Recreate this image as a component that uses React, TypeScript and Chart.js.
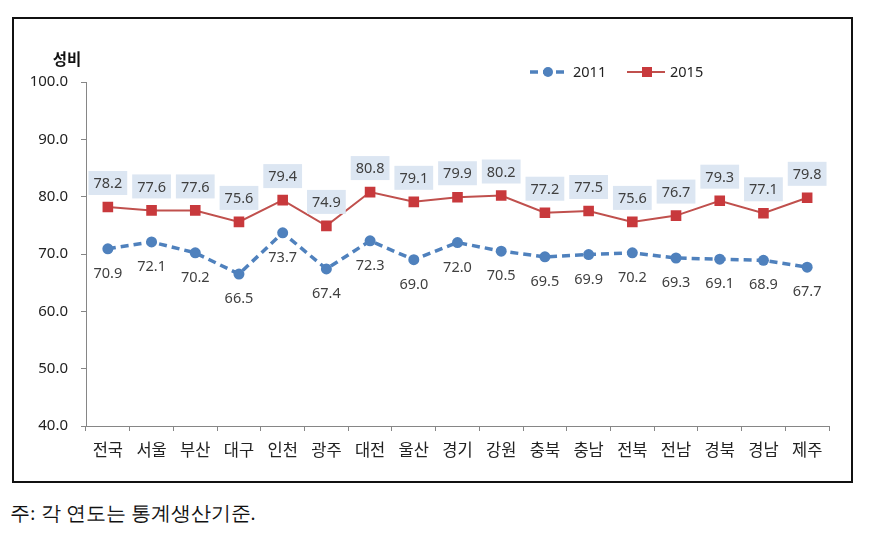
import { useEffect, useRef } from "react";
import { Chart, registerables } from "chart.js";

Chart.register(...registerables);

const categories = ["전국", "서울", "부산", "대구", "인천", "광주", "대전", "울산", "경기", "강원", "충북", "충남", "전북", "전남", "경북", "경남", "제주"];
const values2011 = [70.9, 72.1, 70.2, 66.5, 73.7, 67.4, 72.3, 69.0, 72.0, 70.5, 69.5, 69.9, 70.2, 69.3, 69.1, 68.9, 67.7];
const values2015 = [78.2, 77.6, 77.6, 75.6, 79.4, 74.9, 80.8, 79.1, 79.9, 80.2, 77.2, 77.5, 75.6, 76.7, 79.3, 77.1, 79.8];
const seriesNames = ["2011", "2015"];
const yMin = 40;
const yMax = 100;
const yStep = 10;
const yTitle = "성비";
const footnote = "주: 각 연도는 통계생산기준.";

const BLUE = "#4f81bd";
const RED = "#c0504d";
const RED_MARK = "#c8393c";
const NUM_FONT = "'Noto Sans', 'Noto Sans CJK KR', sans-serif";
const KR_FONT = "'Noto Sans CJK KR', 'Noto Sans', sans-serif";

const labelPlugin = {
  id: "dataLabels",
  afterDatasetsDraw(chart: any) {
    const ctx = chart.ctx;
    ctx.save();
    ctx.font = `14.5px ${NUM_FONT}`;
    ctx.textAlign = "center";
    ctx.textBaseline = "middle";
    chart.data.datasets.forEach((ds: any, di: number) => {
      const meta = chart.getDatasetMeta(di);
      meta.data.forEach((pt: any, i: number) => {
        const text = (ds.data[i] as number).toFixed(1);
        if (di === 1) {
          const cy = pt.y - 24;
          const w = ctx.measureText(text).width + 10;
          ctx.fillStyle = "#dce6f2";
          ctx.fillRect(pt.x - w / 2, cy - 12, w, 24);
          ctx.fillStyle = "#404040";
          ctx.fillText(text, pt.x, cy + 1);
        } else {
          ctx.fillStyle = "#404040";
          ctx.fillText(text, pt.x, pt.y + 25);
        }
      });
    });
    ctx.restore();
  },
};

const decorPlugin = {
  id: "decor",
  afterDraw(chart: any) {
    const ctx = chart.ctx;
    ctx.save();
    ctx.font = `bold 15.5px ${KR_FONT}`;
    ctx.fillStyle = "#111";
    ctx.textAlign = "center";
    ctx.textBaseline = "middle";
    ctx.fillText(yTitle, 67, 59);

    const ly = 72;
    ctx.strokeStyle = BLUE;
    ctx.lineWidth = 3.5;
    ctx.setLineDash([8, 5]);
    ctx.beginPath();
    ctx.moveTo(530, ly);
    ctx.lineTo(566, ly);
    ctx.stroke();
    ctx.setLineDash([]);
    ctx.fillStyle = BLUE;
    ctx.beginPath();
    ctx.arc(548, ly, 5, 0, Math.PI * 2);
    ctx.fill();
    ctx.font = `14.5px ${NUM_FONT}`;
    ctx.fillStyle = "#222";
    ctx.textAlign = "left";
    ctx.fillText(seriesNames[0], 573, ly + 1);

    ctx.strokeStyle = RED;
    ctx.lineWidth = 2;
    ctx.beginPath();
    ctx.moveTo(627, ly);
    ctx.lineTo(665, ly);
    ctx.stroke();
    ctx.fillStyle = RED_MARK;
    ctx.fillRect(642, ly - 5, 10, 10);
    ctx.fillStyle = "#222";
    ctx.fillText(seriesNames[1], 670, ly + 1);
    ctx.restore();
  },
};

export default function App() {
  const ref = useRef<HTMLCanvasElement | null>(null);

  useEffect(() => {
    document.body.style.margin = "0";
    if (!ref.current) return;
    const chart = new Chart(ref.current, {
      type: "line",
      data: {
        labels: categories,
        datasets: [
          {
            label: seriesNames[0],
            data: values2011,
            borderColor: BLUE,
            backgroundColor: BLUE,
            borderWidth: 3.5,
            borderDash: [8, 5],
            pointStyle: "circle",
            pointRadius: 5.5,
            pointBackgroundColor: BLUE,
            pointBorderColor: BLUE,
            pointBorderWidth: 0,
            tension: 0,
          },
          {
            label: seriesNames[1],
            data: values2015,
            borderColor: RED,
            backgroundColor: RED_MARK,
            borderWidth: 2,
            pointStyle: "rect",
            pointRadius: 7.5,
            pointBackgroundColor: RED_MARK,
            pointBorderColor: RED_MARK,
            pointBorderWidth: 0,
            tension: 0,
          },
        ],
      },
      options: {
        animation: false,
        responsive: false,
        maintainAspectRatio: false,
        layout: { padding: { top: 82, right: 44, left: 0, bottom: 0 } },
        plugins: {
          legend: { display: false },
          tooltip: { enabled: false },
          title: { display: false },
        },
        scales: {
          x: {
            type: "category",
            offset: true,
            grid: {
              offset: true,
              drawOnChartArea: false,
              drawTicks: true,
              tickLength: 5,
              color: "#868686",
            },
            border: { color: "#868686", width: 1 },
            ticks: {
              font: { size: 16.5, family: KR_FONT },
              color: "#222",
              padding: 9,
              maxRotation: 0,
              autoSkip: false,
            },
            afterFit: (s: any) => {
              s.height = 56;
            },
          },
          y: {
            min: yMin,
            max: yMax,
            grid: {
              drawOnChartArea: false,
              drawTicks: true,
              tickLength: 5,
              color: "#868686",
            },
            border: { color: "#868686", width: 1 },
            ticks: {
              stepSize: yStep,
              font: { size: 15, family: NUM_FONT },
              color: "#222",
              padding: 13,
              callback: (v: any) => Number(v).toFixed(1),
            },
            afterFit: (s: any) => {
              s.width = 86;
            },
          },
        },
      },
      plugins: [labelPlugin, decorPlugin],
    });
    return () => chart.destroy();
  }, []);

  return (
    <div style={{ position: "relative", width: 873, height: 534, background: "#fff" }}>
      <div
        style={{
          position: "absolute",
          left: 12,
          top: 17,
          width: 841,
          height: 466,
          border: "2px solid #111",
          boxSizing: "border-box",
        }}
      />
      <canvas
        ref={ref}
        width={873}
        height={482}
        style={{ position: "absolute", left: 0, top: 0, width: 873, height: 482 }}
      />
      <div
        style={{
          position: "absolute",
          left: 10,
          top: 500,
          fontSize: 20,
          lineHeight: "26px",
          fontFamily: "serif",
          color: "#111",
          whiteSpace: "nowrap",
        }}
      >
        {footnote}
      </div>
    </div>
  );
}
